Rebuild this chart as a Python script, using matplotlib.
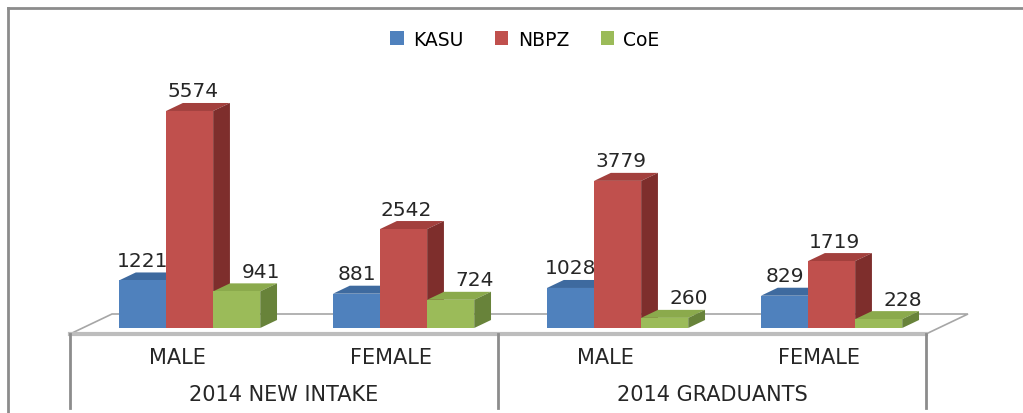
import matplotlib.pyplot as plt
from matplotlib.patches import Polygon, Patch
from matplotlib.lines import Line2D

# Data
groups = ["2014 NEW INTAKE", "2014 GRADUANTS"]
categories = ["MALE", "FEMALE", "MALE", "FEMALE"]
series = ["KASU", "NBPZ", "CoE"]
kasu = [1221, 881, 1028, 829]
nbpz = [5574, 2542, 3779, 1719]
coe = [941, 724, 260, 228]
values = [kasu, nbpz, coe]

front_col = ["#4F81BD", "#C0504D", "#9BBB59"]
top_col = ["#3E6A9F", "#A3403D", "#8BAA4C"]
side_col = ["#30547F", "#7E2E2C", "#68833A"]
label_shift = [0, 3, 24]  # pixels, like Excel's label placement

fig = plt.figure(figsize=(10.23, 4.14), dpi=100)
ax = fig.add_axes([70 / 1023, 79 / 414, 856 / 1023, 233.6 / 414])
ax.set_xlim(-0.5, 3.5)
ax.set_ylim(0, 6000)
ax.axis("off")

# pixel -> data conversions for the fake 3D depth
sx = ax.bbox.width / 4.0
sy = ax.bbox.height / 6000.0
DX = 42 / sx   # floor depth
DY = 20 / sy

# floor
floor = Polygon([(-0.5, 0), (3.5, 0), (3.5 + DX, DY), (-0.5 + DX, DY)],
                closed=True, facecolor="white", edgecolor="#A6A6A6",
                lw=1.2, clip_on=False, zorder=1)
ax.add_patch(floor)
ax.plot([-0.5, 3.5], [0, 0], color="#BDBDBD", lw=3, clip_on=False, zorder=2)

# bars as boxes
w = 0.22
s, b = 0.3 * DX, 0.3 * DY       # bars sit in the middle of the floor depth
dx, dy = 0.4 * DX, 0.4 * DY     # bar depth
for i in range(len(categories)):
    for j in range(len(series)):
        v = values[j][i]
        x0 = i - 1.5 * w + j * w + s
        x1 = x0 + w
        top = b + v
        ax.add_patch(Polygon([(x0, top), (x1, top), (x1 + dx, top + dy), (x0 + dx, top + dy)],
                             facecolor=top_col[j], edgecolor="none", clip_on=False, zorder=3))
        ax.add_patch(Polygon([(x1, b), (x1 + dx, b + dy), (x1 + dx, top + dy), (x1, top)],
                             facecolor=side_col[j], edgecolor="none", clip_on=False, zorder=3))
        ax.add_patch(Polygon([(x0, b), (x1, b), (x1, top), (x0, top)],
                             facecolor=front_col[j], edgecolor="none", clip_on=False, zorder=3))
        ax.annotate(str(v), xy=((x0 + x1) / 2, top), xytext=(label_shift[j], 20),
                    textcoords="offset pixels", ha="center", va="center",
                    fontsize=14.5, color="#262626", zorder=5)

# category axis below the floor
xt = ax.get_xaxis_transform()
for xv in [-0.5, 1.5, 3.5]:
    ax.plot([xv, xv], [0, -0.315], transform=xt, color="#8C8C8C", lw=2,
            clip_on=False, zorder=2)
for i, c in enumerate(categories):
    ax.text(i, -0.098, c, transform=xt, ha="center", va="center",
            fontsize=15, color="#262626")
for g, name in enumerate(groups):
    ax.text(2 * g + 0.5, -0.257, name, transform=xt, ha="center", va="center",
            fontsize=15, color="#262626")

# legend
handles = [Patch(facecolor=front_col[j], edgecolor="none") for j in range(3)]
fig.legend(handles, series, loc="center", bbox_to_anchor=(525 / 1023, 1 - 40 / 414),
           ncol=3, frameon=False, fontsize=13.5, handlelength=0.7, handleheight=0.7,
           handletextpad=0.5, columnspacing=1.7)

# chart frame (only top/left visible, cropped)
fig.add_artist(Line2D([8 / 1023, 1], [1 - 9 / 414, 1 - 9 / 414], color="#8C8C8C", lw=2))
fig.add_artist(Line2D([8 / 1023, 8 / 1023], [0, 1 - 9 / 414], color="#8C8C8C", lw=2))

plt.savefig("out.png", dpi=100)
